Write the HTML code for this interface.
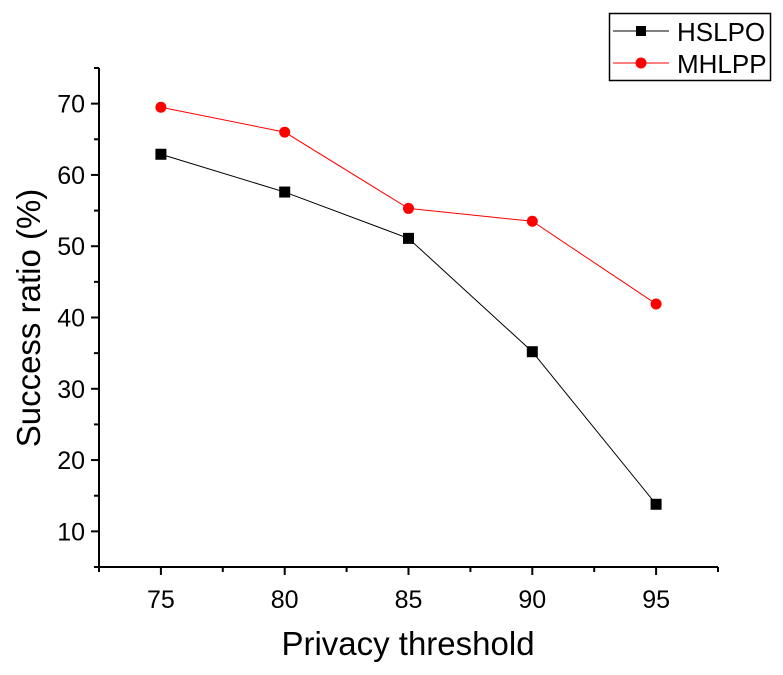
<!DOCTYPE html>
<html><head><meta charset="utf-8"><style>body{margin:0;background:#fff}svg{display:block;font-family:"Liberation Sans",Arial,sans-serif}</style></head>
<body>
<svg id="c" width="783" height="675"></svg>
<script>
const categories=[75,80,85,90,95];
const hslpo=[62.9,57.6,51.1,35.2,13.8];
const mhlpp=[69.5,66.0,55.3,53.5,41.9];
const yTicks=[10,20,30,40,50,60,70];
const xMin=72.5,xMax=97.5,yMin=5,yMax=75;
const L=99,R=718,T=68,B=567;
const sx=v=>L+(v-xMin)/(xMax-xMin)*(R-L);
const sy=v=>B-(v-yMin)/(yMax-yMin)*(B-T);
const svg=document.getElementById('c');
const NS='http://www.w3.org/2000/svg';
function mk(t,a,p){const e=document.createElementNS(NS,t);for(const k in a)e.setAttribute(k,a[k]);(p||svg).appendChild(e);return e;}
let e;
e=mk('line',{x1:L,y1:T,x2:L,y2:B+1,stroke:'#000','stroke-width':2});


e=mk('line',{x1:L-1,y1:B,x2:R,y2:B,stroke:'#000','stroke-width':2});


yTicks.forEach(v=>{
 e=mk('line',{x1:L-8,y1:sy(v),x2:L,y2:sy(v),stroke:'#000','stroke-width':2});
 
 
 e=mk('line',{x1:L-5,y1:sy(v-5),x2:L,y2:sy(v-5),stroke:'#000','stroke-width':2});
 
 
 e=mk('text',{x:L-14,y:sy(v)+9,'text-anchor':'end','font-size':25});
 e.textContent=v;
 
 
});
e=mk('line',{x1:L-5,y1:sy(75),x2:L,y2:sy(75),stroke:'#000','stroke-width':2});


categories.forEach(v=>{
 e=mk('line',{x1:sx(v),y1:B,x2:sx(v),y2:B+8,stroke:'#000','stroke-width':2});
 
 
 e=mk('text',{x:sx(v),y:B+41,'text-anchor':'middle','font-size':25});
 e.textContent=v;
 
 
});
[72.5,77.5,82.5,87.5,92.5,97.5].forEach(v=>{
 e=mk('line',{x1:sx(v),y1:B,x2:sx(v),y2:B+5,stroke:'#000','stroke-width':2});
 
 
});
e=mk('text',{x:408,y:655,'text-anchor':'middle','font-size':33});
e.textContent='Privacy threshold';


e=mk('text',{x:0,y:0,'text-anchor':'middle','font-size':33,transform:'translate(40,318) rotate(-90)'});
e.textContent='Success ratio (%)';


function series(vals,color,marker,name){
 e=mk('polyline',{points:vals.map((v,i)=>sx(categories[i])+','+sy(v)).join(' '),fill:'none',stroke:color,'stroke-width':1});
 
 
 vals.forEach((v,i)=>{
  const x=sx(categories[i]),y=sy(v);
  if(marker==='sq')e=mk('rect',{x:x-5.5,y:y-5.5,width:11,height:11,fill:color});
  else e=mk('circle',{cx:x,cy:y,r:5.5,fill:color});
  
  
 });
}
series(hslpo,'#000','sq','hslpo');
series(mhlpp,'#f00','ci','mhlpp');
const g=mk('g',{});


mk('rect',{x:609.5,y:13.5,width:161,height:67,fill:'#fff',stroke:'#000','stroke-width':1.5},g);
mk('line',{x1:613,y1:31,x2:669,y2:31,stroke:'#000'},g);
mk('rect',{x:636,y:26,width:10,height:10,fill:'#000'},g);
mk('line',{x1:613,y1:63,x2:669,y2:63,stroke:'#f00'},g);
mk('circle',{cx:641,cy:63,r:5.5,fill:'#f00'},g);
e=mk('text',{x:677,y:41,'font-size':26},g);e.textContent='HSLPO';


e=mk('text',{x:677,y:73,'font-size':26},g);e.textContent='MHLPP';


</script>
</body></html>
